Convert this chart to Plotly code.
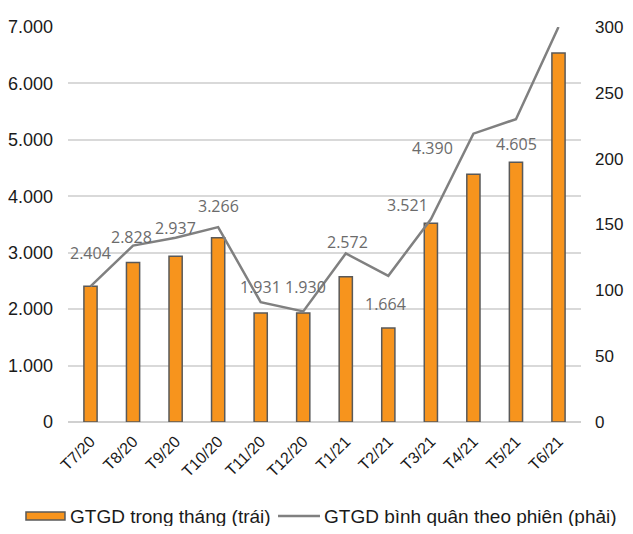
import plotly.graph_objects as go

months = ["T7/20", "T8/20", "T9/20", "T10/20", "T11/20", "T12/20",
          "T1/21", "T2/21", "T3/21", "T4/21", "T5/21", "T6/21"]
monthly_value = [2404, 2828, 2937, 3266, 1931, 1930, 2572, 1664, 3521, 4390, 4605, 6538]
avg_per_session = [103, 134, 140, 148, 91, 84, 128, 111, 154, 219, 230, 300]
left_ticks = [0, 1000, 2000, 3000, 4000, 5000, 6000, 7000]
right_ticks = [0, 50, 100, 150, 200, 250, 300]
bar_name = "GTGD trong tháng (trái)"
line_name = "GTGD bình quân theo phiên (phải)"

# label placement (category offset, y on right axis) - styling only
label_dx = [0, -0.03, 0, 0.02, 0, 0.05, 0.05, -0.07, -0.56, -0.96, 0.02, 0.0]
label_y2 = [128, 140.5, 147, 164, 102.5, 102.5, 137, 90, 165, 208, 211, 309]

BAR_COLOR = "#F7941D"
EDGE_COLOR = "#595959"
LINE_COLOR = "#808080"

def fmt(v):
    return f"{v:,}".replace(",", ".")

fig = go.Figure()
fig.add_trace(go.Bar(
    x=months, y=monthly_value, name=bar_name,
    marker=dict(color=BAR_COLOR, line=dict(color=EDGE_COLOR, width=1.5)),
    width=0.31, yaxis="y", showlegend=False,
))
fig.add_trace(go.Scatter(
    x=months, y=avg_per_session, name=line_name,
    mode="lines", line=dict(color=LINE_COLOR, width=2.5), yaxis="y2", showlegend=False,
))

annotations = []
for i, v in enumerate(monthly_value):
    annotations.append(dict(
        x=i + label_dx[i], y=label_y2[i], xref="x", yref="y2",
        text=fmt(v), showarrow=False,
        font=dict(family="Open Sans, Liberation Sans, sans-serif", size=16, color="#6b6b6b"),
    ))

# custom legend (paper coordinates)
LEG_Y = -0.238
legend_font = dict(family="Liberation Sans, Arial, sans-serif", size=19, color="#1a1a1a")
annotations.append(dict(x=0.0, y=LEG_Y, xref="paper", yref="paper", text=bar_name,
                        showarrow=False, xanchor="left", yanchor="middle", font=legend_font))
annotations.append(dict(x=0.4951, y=LEG_Y, xref="paper", yref="paper", text=line_name,
                        showarrow=False, xanchor="left", yanchor="middle", font=legend_font))
shapes = [
    dict(type="rect", xref="paper", yref="paper", x0=-0.0819, x1=-0.0059,
         y0=LEG_Y - 0.0101, y1=LEG_Y + 0.0101,
         fillcolor=BAR_COLOR, line=dict(color=EDGE_COLOR, width=1.5)),
    dict(type="line", xref="paper", yref="paper", x0=0.4094, x1=0.4912, y0=LEG_Y, y1=LEG_Y,
         line=dict(color=LINE_COLOR, width=2.5)),
]

fig.update_layout(
    width=617, height=518,
    margin=dict(l=60, r=44, t=19, b=104, autoexpand=False),
    plot_bgcolor="white", paper_bgcolor="white",
    font=dict(family="Liberation Sans, Arial, sans-serif", color="#1a1a1a"),
    showlegend=False,
    xaxis=dict(type="category", tickangle=-45, tickfont=dict(size=16, color="#1a1a1a"),
               showgrid=False, showline=False, ticks="", automargin=False,
               ticklabelstandoff=6),
    yaxis=dict(range=[0, 7000], tickvals=left_ticks, ticktext=[fmt(t) for t in left_ticks],
               showgrid=True, gridcolor="#d9d9d9", gridwidth=1.5,
               zeroline=True, zerolinecolor="#d0d0d0", zerolinewidth=1.5,
               tickfont=dict(size=18), ticklabelstandoff=14, automargin=False),
    yaxis2=dict(range=[0, 300], tickvals=right_ticks, overlaying="y", side="right",
                showgrid=False, zeroline=False, tickfont=dict(size=17), ticklabelstandoff=13,
                automargin=False),
    annotations=annotations,
    shapes=shapes,
    bargap=0.69,
)

fig.write_html("out.html")
